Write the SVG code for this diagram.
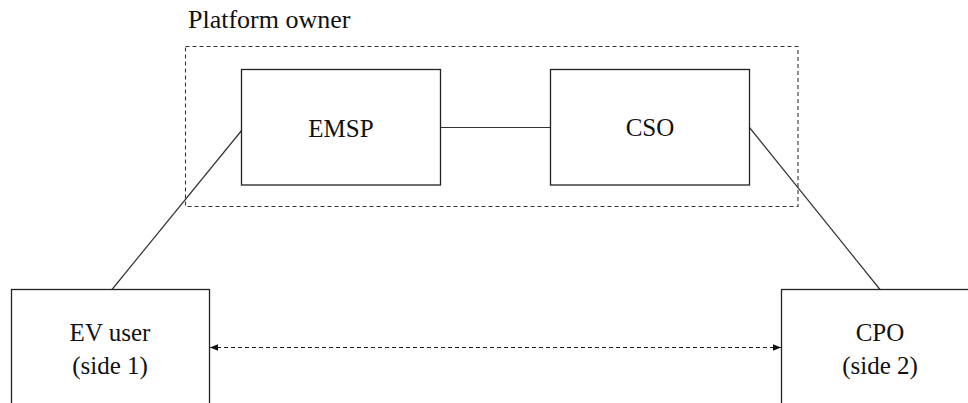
<svg xmlns="http://www.w3.org/2000/svg" width="968" height="403" viewBox="0 0 968 403">
  <style>
    .box { fill: #ffffff; stroke: #222222; stroke-width: 1.3; }
    .group { fill: none; stroke: #333333; stroke-width: 1.1; stroke-dasharray: 4 3; }
    .link { fill: none; stroke: #333333; stroke-width: 1.2; }
    .flow { fill: none; stroke: #222222; stroke-width: 1.2; stroke-dasharray: 4 3; }
    text { font-family: 'Liberation Serif', 'Times New Roman', 'DejaVu Serif', serif; font-size: 25px; fill: #111111; }
    .title { font-size: 26px; }
    .mid { text-anchor: middle; }
  </style>
  <defs>
    <marker id="arrow" viewBox="0 0 10 10" refX="10" refY="5" markerWidth="8" markerHeight="8" markerUnits="userSpaceOnUse" orient="auto-start-reverse">
      <path d="M0,1 L10,5 L0,9 Z" fill="#111111"/>
    </marker>
  </defs>
  <rect width="968" height="403" fill="#ffffff"/>

  <!-- Platform owner boundary -->
  <g id="platform-owner">
    <rect class="group" x="185.5" y="46.5" width="612.5" height="160"/>
    <text class="title" x="188" y="28">Platform owner</text>
  </g>

  <!-- Connectors -->
  <g id="connectors">
    <line class="link" x1="441" y1="127.5" x2="551" y2="127.5"/>
    <line class="link" x1="242" y1="130" x2="112" y2="289.5"/>
    <line class="link" x1="749.5" y1="127.5" x2="880" y2="289.5"/>
    <line class="flow" x1="210" y1="347.5" x2="781" y2="347.5" marker-start="url(#arrow)" marker-end="url(#arrow)"/>
  </g>

  <g id="emsp">
    <rect class="box" x="241.5" y="69.5" width="199" height="115.5"/>
    <text class="mid" x="341" y="136.5">EMSP</text>
  </g>

  <g id="cso">
    <rect class="box" x="550.5" y="69.5" width="199" height="115.5"/>
    <text class="mid" x="650" y="136">CSO</text>
  </g>

  <g id="ev-user">
    <rect class="box" x="11.5" y="289.5" width="198" height="130"/>
    <text class="mid" x="110" y="341">EV user</text>
    <text class="mid" x="110" y="374">(side 1)</text>
  </g>

  <g id="cpo">
    <rect class="box" x="781.5" y="289.5" width="198" height="130"/>
    <text class="mid" x="880" y="341">CPO</text>
    <text class="mid" x="880" y="374">(side 2)</text>
  </g>
</svg>
